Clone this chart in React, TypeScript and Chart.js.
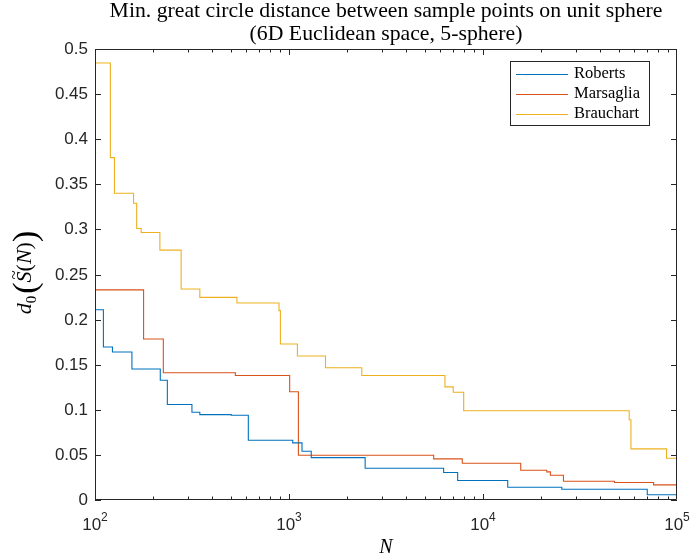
import React, { useEffect, useRef } from 'react';
import { Chart, registerables } from 'chart.js';

Chart.register(...registerables);

// ---- data (N breakpoints and step values after each breakpoint) ----
const robertsN = [100, 110.5, 123, 155, 217, 236, 316, 347, 504, 617, 1045, 1167, 1302, 2469, 6268, 7403, 13410, 25480, 70260, 100000];
const robertsD = [0.211, 0.1697, 0.164, 0.1453, 0.1327, 0.1058, 0.0973, 0.0947, 0.0939, 0.0662, 0.0633, 0.054, 0.047, 0.0352, 0.0305, 0.0216, 0.0142, 0.012, 0.0058, 0.0058];

const marsagliaN = [100, 178, 225, 529, 1008, 1118, 5567, 7818, 15650, 21330, 22250, 25980, 47640, 75730, 100000];
const marsagliaD = [0.233, 0.1785, 0.141, 0.138, 0.12, 0.0496, 0.0456, 0.0408, 0.033, 0.0312, 0.0275, 0.0208, 0.0194, 0.0168, 0.0168];

const brauchartN = [100, 120, 126, 158, 164, 173, 216, 278, 347, 539, 888, 903, 1105, 1542, 2373, 6366, 7025, 7951, 56720, 57880, 88300, 100000];
const brauchartD = [0.4845, 0.3796, 0.34, 0.329, 0.301, 0.2966, 0.277, 0.234, 0.2246, 0.2184, 0.21, 0.173, 0.1597, 0.1467, 0.138, 0.1254, 0.1194, 0.099, 0.089, 0.0567, 0.0463, 0.0463];

const seriesLabels = ['Roberts', 'Marsaglia', 'Brauchart'];
const seriesColors = ['#0072BD', '#D95319', '#EDB120'];

const yTicks = [0, 0.05, 0.1, 0.15, 0.2, 0.25, 0.3, 0.35, 0.4, 0.45, 0.5];
const yTickLabels = ['0', '0.05', '0.1', '0.15', '0.2', '0.25', '0.3', '0.35', '0.4', '0.45', '0.5'];
const xTickExponents = [2, 3, 4, 5];
const titleLines = ['Min. great circle distance between sample points on unit sphere', '(6D Euclidean space, 5-sphere)'];
const xAxisLabel = 'N';

const AXIS = '#262626';
const SERIF = '"Liberation Serif", "DejaVu Serif", serif';
const SANS = '"Liberation Sans", Arial, sans-serif';

function toPoints(ns: number[], ds: number[]) {
  return ns.map((n, i) => ({ x: n, y: ds[i] }));
}

type Piece = { t: string; font: string; dy: number; tilde?: boolean };

function drawPieces(ctx: CanvasRenderingContext2D, pieces: Piece[], cx: number, cy: number) {
  let total = 0;
  const widths = pieces.map((p) => {
    ctx.font = p.font;
    const w = ctx.measureText(p.t).width;
    total += w;
    return w;
  });
  let x = cx - total / 2;
  ctx.textBaseline = 'alphabetic';
  ctx.textAlign = 'left';
  pieces.forEach((p, i) => {
    ctx.font = p.font;
    ctx.fillText(p.t, x, cy + p.dy);
    if (p.tilde) {
      ctx.font = `17px ${SERIF}`;
      const tw = ctx.measureText('~').width;
      ctx.fillText('~', x + widths[i] / 2 - tw / 2 + 2, cy + p.dy - 12);
    }
    x += widths[i];
  });
}

const decorPlugin = {
  id: 'matlabDecor',
  afterDatasetsDraw(chart: any) {
    const { ctx, chartArea, scales } = chart;
    const { left, right, top, bottom } = chartArea;
    const xs = scales.x;
    const ys = scales.y;
    ctx.save();

    // y ticks + labels
    ctx.strokeStyle = AXIS;
    ctx.lineWidth = 1;
    ctx.fillStyle = AXIS;
    ctx.font = `17px ${SANS}`;
    ctx.textAlign = 'right';
    ctx.textBaseline = 'middle';
    yTicks.forEach((v, i) => {
      const py = Math.round(ys.getPixelForValue(v)) + 0.5;
      ctx.beginPath();
      ctx.moveTo(left, py);
      ctx.lineTo(left + 6, py);
      ctx.moveTo(right, py);
      ctx.lineTo(right - 6, py);
      ctx.stroke();
      ctx.fillText(yTickLabels[i], left - 7, py);
    });

    // x ticks (major + minor)
    for (let e = xTickExponents[0]; e < xTickExponents[xTickExponents.length - 1]; e++) {
      for (let m = 1; m <= 9; m++) {
        const v = m * Math.pow(10, e);
        const px = Math.round(xs.getPixelForValue(v)) + 0.5;
        const len = m === 1 ? 6 : 3.5;
        ctx.beginPath();
        ctx.moveTo(px, bottom);
        ctx.lineTo(px, bottom - len);
        ctx.moveTo(px, top);
        ctx.lineTo(px, top + len);
        ctx.stroke();
      }
    }
    // x labels
    xTickExponents.forEach((e) => {
      const px = xs.getPixelForValue(Math.pow(10, e));
      ctx.font = `17px ${SANS}`;
      const w1 = ctx.measureText('10').width;
      ctx.font = `12px ${SANS}`;
      const w2 = ctx.measureText(String(e)).width;
      const start = px - (w1 + w2) / 2;
      ctx.textAlign = 'left';
      ctx.textBaseline = 'alphabetic';
      ctx.font = `17px ${SANS}`;
      ctx.fillText('10', start, bottom + 30);
      ctx.font = `12px ${SANS}`;
      ctx.fillText(String(e), start + w1, bottom + 21);
    });

    // box
    ctx.beginPath();
    ctx.rect(Math.round(left) + 0.5, Math.round(top) + 0.5, Math.round(right - left) - 1, Math.round(bottom - top) - 1);
    ctx.stroke();

    // title
    ctx.fillStyle = '#000';
    ctx.textAlign = 'center';
    ctx.textBaseline = 'alphabetic';
    const cx = (left + right) / 2;
    ctx.font = `18px ${SERIF}`;
    const w = ctx.measureText(titleLines[0]).width;
    const size = 18 * 553 / w;
    ctx.font = `${size.toFixed(2)}px ${SERIF}`;
    ctx.fillText(titleLines[0], cx, 16.5);
    ctx.fillText(titleLines[1], cx, 40);

    // x axis label
    ctx.font = `italic 20px ${SERIF}`;
    ctx.fillText(xAxisLabel, cx, 553);

    // y axis label
    ctx.save();
    ctx.translate(31, (top + bottom) / 2 - 2);
    ctx.rotate(-Math.PI / 2);
    drawPieces(ctx, [
      { t: 'd', font: `italic 22px ${SERIF}`, dy: 0 },
      { t: '0', font: `15px ${SERIF}`, dy: 5 },
      { t: ' ', font: `8px ${SERIF}`, dy: 0 },
      { t: '(', font: `34px ${SERIF}`, dy: 5 },
      { t: 'S', font: `italic 22px ${SERIF}`, dy: 0, tilde: true },
      { t: '(', font: `22px ${SERIF}`, dy: 0 },
      { t: 'N', font: `italic 22px ${SERIF}`, dy: 0 },
      { t: ')', font: `22px ${SERIF}`, dy: 0 },
      { t: ')', font: `34px ${SERIF}`, dy: 5 },
    ], 0, 0);
    ctx.restore();

    // legend
    const lx0 = 510.5, ly0 = 61.5, lw = 139, lh = 64;
    ctx.fillStyle = '#fff';
    ctx.fillRect(lx0, ly0, lw, lh);
    ctx.strokeStyle = AXIS;
    ctx.strokeRect(lx0, ly0, lw, lh);
    const rows = [73.5, 93.5, 114];
    ctx.font = `16.5px ${SERIF}`;
    ctx.textAlign = 'left';
    ctx.textBaseline = 'middle';
    seriesLabels.forEach((lab, i) => {
      ctx.strokeStyle = seriesColors[i];
      ctx.beginPath();
      ctx.moveTo(516, Math.round(rows[i]) + 0.5);
      ctx.lineTo(568, Math.round(rows[i]) + 0.5);
      ctx.stroke();
      ctx.fillStyle = '#000';
      ctx.fillText(lab, 574, rows[i]);
    });

    ctx.restore();
  },
};

export default function App() {
  const ref = useRef<HTMLCanvasElement | null>(null);
  useEffect(() => {
    document.body.style.margin = '0';
    const canvas = ref.current;
    if (!canvas) return;
    const seriesN = [robertsN, marsagliaN, brauchartN];
    const seriesD = [robertsD, marsagliaD, brauchartD];
    const chart = new Chart(canvas, {
      type: 'line',
      data: {
        datasets: seriesLabels.map((label, i) => ({
          label,
          data: toPoints(seriesN[i], seriesD[i]),
          borderColor: seriesColors[i],
          backgroundColor: seriesColors[i],
          borderWidth: 1.1,
          pointRadius: 0,
          stepped: 'before' as const,
          fill: false,
        })),
      },
      options: {
        animation: false,
        responsive: false,
        devicePixelRatio: 1,
        layout: { padding: { left: 95, top: 49, right: 13, bottom: 59 } },
        plugins: { legend: { display: false }, title: { display: false }, tooltip: { enabled: false } },
        scales: {
          x: { type: 'logarithmic', min: 100, max: 100000, display: false },
          y: { type: 'linear', min: 0, max: 0.5, display: false },
        },
      },
      plugins: [decorPlugin],
    });
    return () => chart.destroy();
  }, []);
  return <canvas ref={ref} width={690} height={559} style={{ display: 'block' }} />;
}
